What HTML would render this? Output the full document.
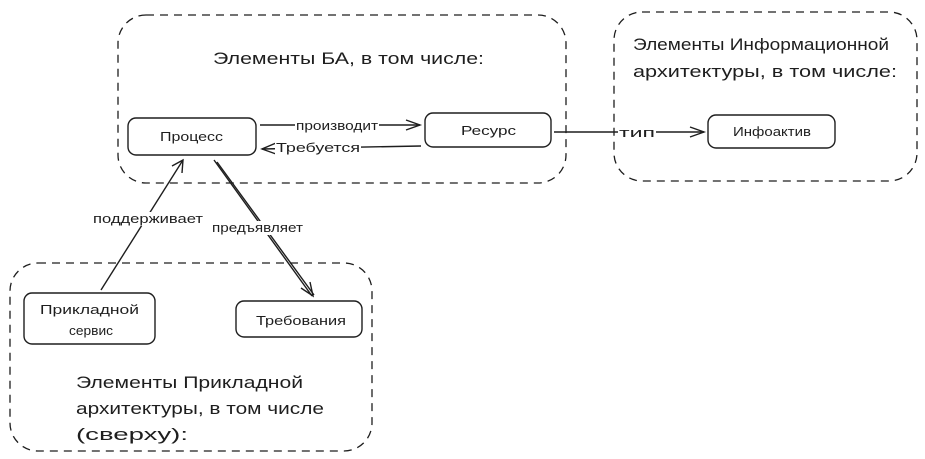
<!DOCTYPE html>
<html><head><meta charset="utf-8"><style>
html,body{margin:0;padding:0;background:#fff;}
svg{display:block}
text{font-family:"Liberation Sans",sans-serif;fill:#1e1e1e}
</style></head><body>
<svg width="925" height="459" viewBox="0 0 925 459" xmlns="http://www.w3.org/2000/svg">
<g fill="none" stroke="#1e1e1e" stroke-width="1.3" stroke-dasharray="8 6">
<rect x="118" y="15" width="448" height="168" rx="28"/>
<rect x="614" y="12" width="303" height="169" rx="28"/>
<rect x="10" y="263" width="362" height="188" rx="28"/>
</g>
<g fill="none" stroke="#1e1e1e" stroke-width="1.4">
<rect x="128" y="118" width="128" height="37" rx="8"/>
<rect x="425" y="113" width="126" height="34" rx="8"/>
<rect x="708" y="115" width="127" height="33" rx="8"/>
<rect x="24" y="293" width="131" height="51" rx="8"/>
<rect x="236" y="301" width="126" height="36" rx="8"/>
<path d="M260 125 L420 125"/><path d="M406 120 L420 125 L406 130"/>
<path d="M421 146 L262 149"/><path d="M276 143 L262 149 L276 154"/>
<path d="M554 132 L704 132"/><path d="M690 127 L704 132 L690 137"/>
<path d="M101 290 L183 160"/><path d="M172 166 L183 160 L182 173"/>
<path d="M214 160 L312 296"/><path d="M217 162 L314 295"/><path d="M310 282 L313 296 L301 288"/>
</g>
<g font-size="13">
<rect x="295" y="118" width="84" height="14" fill="#fff"/>
<text x="296" y="130" textLength="82" lengthAdjust="spacingAndGlyphs">производит</text>
<rect x="275" y="141" width="86" height="14" fill="#fff"/>
<text x="276" y="152" textLength="84" lengthAdjust="spacingAndGlyphs">Требуется</text>
<rect x="618" y="125" width="38" height="14" fill="#fff"/>
<text x="619" y="137" textLength="36" lengthAdjust="spacingAndGlyphs">тип</text>
<rect x="92" y="212" width="112" height="14" fill="#fff"/>
<text x="93" y="223" textLength="110" lengthAdjust="spacingAndGlyphs">поддерживает</text>
<rect x="211" y="221" width="93" height="14" fill="#fff"/>
<text x="212" y="232" textLength="91" lengthAdjust="spacingAndGlyphs">предъявляет</text>
<text x="160" y="141" textLength="63" lengthAdjust="spacingAndGlyphs">Процесс</text>
<text x="461" y="135" textLength="55" lengthAdjust="spacingAndGlyphs">Ресурс</text>
<text x="733" y="136" textLength="78" lengthAdjust="spacingAndGlyphs">Инфоактив</text>
<text x="40" y="314" textLength="99" lengthAdjust="spacingAndGlyphs">Прикладной</text>
<text x="69" y="335" textLength="44" lengthAdjust="spacingAndGlyphs">сервис</text>
<text x="256" y="325" textLength="90" lengthAdjust="spacingAndGlyphs">Требования</text>
</g>
<g font-size="17">
<text x="213" y="64" textLength="271" lengthAdjust="spacingAndGlyphs">Элементы БА, в том числе:</text>
<text x="633" y="50" textLength="256" lengthAdjust="spacingAndGlyphs">Элементы Информационной</text>
<text x="633" y="77" textLength="264" lengthAdjust="spacingAndGlyphs">архитектуры, в том числе:</text>
<text x="76" y="388" textLength="227" lengthAdjust="spacingAndGlyphs">Элементы Прикладной</text>
<text x="76" y="414" textLength="248" lengthAdjust="spacingAndGlyphs">архитектуры, в том числе</text>
<text x="76" y="440" textLength="112" lengthAdjust="spacingAndGlyphs">(сверху):</text>
</g>
</svg>
</body></html>
